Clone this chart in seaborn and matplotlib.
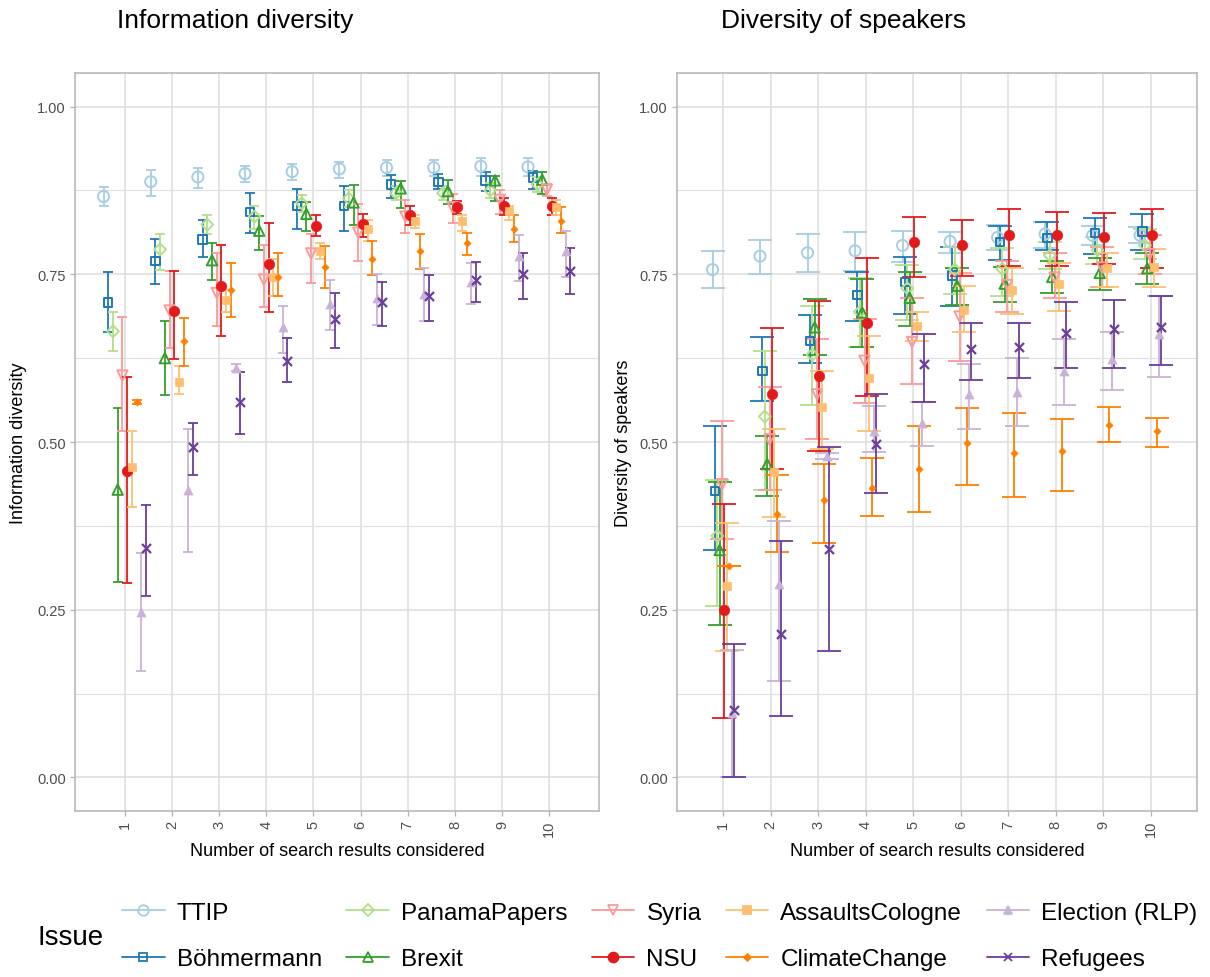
import numpy as np
import pandas as pd
import matplotlib
matplotlib.use("Agg")
import matplotlib.pyplot as plt
from matplotlib.lines import Line2D
from matplotlib.ticker import FixedLocator
import seaborn as sns

# ---------------------------------------------------------------------------
# Data: mean and confidence bounds per issue (rows) and number of search
# results considered (columns 1..10)
# ---------------------------------------------------------------------------
issues = ["TTIP", "Böhmermann", "PanamaPapers", "Brexit", "Syria", "NSU",
          "AssaultsCologne", "ClimateChange", "Election (RLP)", "Refugees"]
n_results = [1, 2, 3, 4, 5, 6, 7, 8, 9, 10]

info_mean = [
    [.866, .888, .895, .900, .903, .907, .909, .909, .911, .910],
    [.708, .770, .802, .843, .852, .852, .884, .888, .890, .894],
    [.665, .787, .824, .836, .856, .863, .871, .871, .875, .884],
    [.429, .625, .771, .815, .840, .857, .878, .874, .890, .891],
    [.599, .696, .722, .742, .781, .812, .836, .850, .861, .876],
    [.457, .696, .732, .766, .822, .825, .838, .850, .852, .852],
    [.462, .590, .711, .746, .784, .817, .829, .829, .845, .850],
    [.560, .650, .727, .746, .761, .773, .785, .796, .817, .829],
    [.247, .429, .611, .671, .706, .715, .720, .738, .777, .784],
    [.342, .492, .559, .621, .683, .708, .717, .741, .750, .755],
]
info_low = [
    [.852, .867, .878, .887, .890, .893, .897, .896, .897, .896],
    [.664, .736, .776, .812, .817, .815, .863, .877, .874, .877],
    [.635, .757, .810, .818, .843, .850, .860, .860, .864, .873],
    [.292, .570, .741, .786, .814, .824, .849, .855, .859, .869],
    [.517, .640, .673, .701, .737, .770, .812, .826, .840, .866],
    [.290, .623, .658, .694, .807, .806, .824, .840, .839, .838],
    [.403, .571, .694, .717, .773, .800, .819, .815, .831, .838],
    [.557, .614, .687, .717, .729, .749, .758, .778, .798, .812],
    [.158, .336, .606, .633, .667, .675, .680, .706, .740, .746],
    [.270, .451, .512, .590, .640, .673, .680, .708, .713, .720],
]
info_high = [
    [.880, .905, .909, .912, .915, .917, .921, .921, .924, .924],
    [.754, .803, .831, .871, .877, .881, .898, .900, .902, .904],
    [.694, .810, .838, .852, .868, .876, .882, .882, .886, .895],
    [.550, .681, .797, .837, .857, .883, .889, .891, .897, .902],
    [.687, .755, .781, .793, .810, .854, .860, .870, .875, .885],
    [.597, .755, .794, .827, .838, .840, .852, .859, .864, .864],
    [.517, .614, .727, .773, .797, .831, .838, .838, .852, .861],
    [.563, .685, .767, .781, .792, .800, .810, .812, .839, .850],
    [.335, .520, .616, .702, .741, .751, .760, .767, .808, .815],
    [.406, .529, .604, .655, .722, .739, .749, .768, .781, .789],
]

speaker_mean = [
    [.757, .777, .782, .785, .793, .799, .805, .810, .808, .808],
    [.427, .606, .651, .719, .738, .748, .798, .804, .812, .814],
    [.360, .538, .630, .694, .729, .757, .758, .778, .786, .793],
    [.339, .467, .671, .693, .715, .733, .736, .746, .752, .759],
    [.437, .504, .571, .621, .649, .687, .734, .745, .760, .780],
    [.249, .572, .599, .677, .798, .793, .808, .808, .806, .808],
    [.286, .455, .552, .595, .673, .697, .727, .736, .759, .761],
    [.315, .393, .413, .431, .460, .498, .483, .487, .526, .517],
    [.096, .288, .479, .517, .528, .571, .575, .606, .624, .661],
    [.100, .214, .341, .497, .617, .638, .641, .662, .668, .671],
]
speaker_low = [
    [.729, .750, .753, .755, .769, .782, .786, .789, .794, .796],
    [.339, .561, .618, .680, .691, .703, .771, .786, .780, .786],
    [.255, .429, .555, .641, .682, .720, .717, .758, .765, .773],
    [.227, .420, .630, .641, .673, .704, .708, .722, .727, .736],
    [.355, .429, .505, .558, .587, .621, .694, .715, .731, .751],
    [.089, .460, .486, .569, .746, .748, .762, .762, .765, .760],
    [.188, .388, .490, .517, .651, .664, .691, .696, .731, .731],
    [.315, .336, .350, .389, .395, .436, .418, .427, .500, .493],
    [.000, .144, .474, .485, .494, .520, .524, .555, .578, .597],
    [.000, .091, .188, .424, .559, .592, .596, .611, .611, .615],
]
speaker_high = [
    [.784, .801, .810, .813, .814, .813, .824, .828, .822, .820],
    [.524, .657, .689, .753, .776, .790, .822, .828, .834, .840],
    [.444, .636, .703, .745, .764, .790, .789, .798, .805, .817],
    [.441, .509, .713, .743, .753, .759, .761, .770, .774, .781],
    [.531, .582, .654, .683, .715, .752, .770, .782, .791, .808],
    [.408, .670, .710, .775, .835, .831, .848, .843, .842, .847],
    [.380, .520, .606, .658, .694, .732, .759, .767, .781, .787],
    [.315, .451, .467, .476, .524, .550, .543, .534, .552, .536],
    [.190, .382, .484, .553, .559, .616, .625, .654, .664, .718],
    [.199, .352, .493, .571, .661, .678, .678, .708, .712, .718],
]

# ---------------------------------------------------------------------------
# Styling
# ---------------------------------------------------------------------------
sns.set_theme(style="white")
plt.rcParams["font.family"] = ["Liberation Sans", "DejaVu Sans"]
plt.rcParams["text.color"] = "black"
plt.rcParams["axes.labelcolor"] = "black"

colors = sns.color_palette("Paired", len(issues))
# marker, filled, marker size (pt)
marker_style = {
    "TTIP": ("o", False, 8.0),
    "Böhmermann": ("s", False, 6.0),
    "PanamaPapers": ("D", False, 6.0),
    "Brexit": ("^", False, 7.5),
    "Syria": ("v", False, 7.5),
    "NSU": ("o", True, 7.5),
    "AssaultsCologne": ("s", True, 6.0),
    "ClimateChange": ("D", True, 3.6),
    "Election (RLP)": ("^", True, 6.5),
    "Refugees": ("x", True, 6.5),
}

GRID = "#dedede"
FRAME = "#b3b3b3"
TICKTXT = "#4d4d4d"

W, H = 1210, 978
fig = plt.figure(figsize=(W / 100, H / 100), dpi=100)


def fig_rect(x0, y0, x1, y1):
    return [x0 / W, 1 - y1 / H, (x1 - x0) / W, (y1 - y0) / H]


def draw_panel(ax, mean, low, high, dodge, cap_pts, xlim, ylabel):
    offsets = (np.arange(len(issues)) - (len(issues) - 1) / 2) * dodge
    x = np.array(n_results, dtype=float)
    # error bars first, points on top
    for i, issue in enumerate(issues):
        m = np.array(mean[i])
        lo = np.array(low[i])
        hi = np.array(high[i])
        ax.errorbar(x + offsets[i], m, yerr=[m - lo, hi - m], fmt="none",
                    ecolor=colors[i], elinewidth=1.3, capsize=cap_pts,
                    capthick=1.3, zorder=2)
    for i, issue in enumerate(issues):
        mk, filled, size = marker_style[issue]
        df = pd.DataFrame({"x": x + offsets[i], "y": mean[i]})
        kw = dict(marker=mk, s=size ** 2, color=colors[i], zorder=3,
                  legend=False, ax=ax)
        if mk == "x":
            kw.update(linewidth=1.6)
        elif filled:
            kw.update(edgecolor=colors[i], linewidth=0.5)
        else:
            kw.update(facecolor="none", edgecolor=colors[i], linewidth=1.4)
        sns.scatterplot(data=df, x="x", y="y", **kw)

    ax.set_xlim(*xlim)
    ax.set_ylim(-0.05, 1.05)
    ax.yaxis.set_major_locator(FixedLocator([0, 0.25, 0.5, 0.75, 1.0]))
    ax.yaxis.set_minor_locator(FixedLocator([0.125, 0.375, 0.625, 0.875]))
    ax.xaxis.set_major_locator(FixedLocator(n_results))
    ax.set_yticklabels(["0.00", "0.25", "0.50", "0.75", "1.00"])
    ax.set_xticklabels([str(v) for v in n_results], rotation=90)
    ax.grid(True, which="major", color=GRID, lw=1.1, zorder=0)
    ax.grid(True, which="minor", axis="y", color=GRID, lw=0.8, zorder=0)
    ax.set_axisbelow(True)
    for sp in ax.spines.values():
        sp.set_color(FRAME)
        sp.set_linewidth(1.1)
    ax.tick_params(axis="both", which="major", length=3.5, width=0.9,
                   color=FRAME, labelcolor=TICKTXT, labelsize=10.5, pad=3,
                   bottom=True, left=True)
    ax.tick_params(axis="both", which="minor", length=0)
    ax.set_xlabel("Number of search results considered", fontsize=13,
                  color="black")
    ax.set_ylabel(ylabel, fontsize=13, color="black")
    ax.xaxis.set_label_coords(0.5, -0.054)
    ax.xaxis.label.set_va("center")
    ax.yaxis.label.set_va("center")


ax1 = fig.add_axes(fig_rect(75, 74, 599, 812))
draw_panel(ax1, info_mean, info_low, info_high, dodge=0.1, cap_pts=3.4,
           xlim=(-0.055, 11.055), ylabel="Information diversity")
ax1.yaxis.set_label_coords((19 - 75) / 524, 0.5)

ax2 = fig.add_axes(fig_rect(677, 74, 1197, 812))
draw_panel(ax2, speaker_mean, speaker_low, speaker_high, dodge=0.05,
           cap_pts=8.6, xlim=(0.0275, 10.9725), ylabel="Diversity of speakers")
ax2.yaxis.set_label_coords((624 - 677) / 520, 0.5)

fig.text(117 / W, 1 - 21 / H, "Information diversity", fontsize=19,
         ha="left", va="center", color="black")
fig.text(721 / W, 1 - 21 / H, "Diversity of speakers", fontsize=19,
         ha="left", va="center", color="black")

# Legend at the bottom
handles = []
for i, issue in enumerate(issues):
    mk, filled, size = marker_style[issue]
    handles.append(Line2D([0], [0], color=colors[i], lw=1.3, marker=mk,
                          ms=size * 0.95,
                          mfc=(colors[i] if filled else "none"),
                          mec=colors[i], mew=1.3))
fig.legend(handles, issues, loc="center left",
           bbox_to_anchor=(122 / W, 1 - 937 / H), ncol=5, frameon=False,
           fontsize=17.5, handlelength=1.75, handletextpad=0.5,
           columnspacing=1.0, labelspacing=1.0, borderaxespad=0,
           borderpad=0)
fig.text(37 / W, 1 - 938 / H, "Issue", fontsize=20, ha="left", va="center",
         color="black")

fig.savefig("out.png", dpi=100)
